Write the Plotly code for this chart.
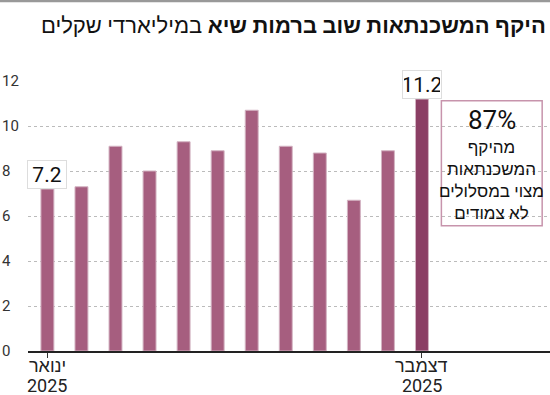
import plotly.graph_objects as go

months = ["ינואר", "פברואר", "מרץ", "אפריל", "מאי", "יוני",
          "יולי", "אוגוסט", "ספטמבר", "אוקטובר", "נובמבר", "דצמבר"]
values = [7.2, 7.3, 9.1, 8.0, 9.3, 8.9, 10.7, 9.1, 8.8, 6.7, 8.9, 11.2]
year = "2025"
y_ticks = [0, 2, 4, 6, 8, 10, 12]
title_bold = "היקף המשכנתאות שוב ברמות שיא"
title_regular = "במיליארדי שקלים"
note_big = "87%"
note_lines = ["מהיקף", "המשכנתאות", "מצוי במסלולים", "לא צמודים"]

FONT = "Liberation Sans Narrow, Roboto, Liberation Sans, Arial, sans-serif"
BAR = "#A65E7F"
BAR_LAST = "#8B3F64"

x_idx = list(range(len(months)))
colors = [BAR] * (len(values) - 1) + [BAR_LAST]

fig = go.Figure()
fig.add_trace(go.Bar(
    x=x_idx, y=values, width=0.38,
    marker=dict(color=colors, line=dict(color="#D3B3C2", width=1)),
    hoverinfo="skip",
))

fig.update_layout(
    width=550, height=395,
    margin=dict(l=28, r=0, t=81, b=44, pad=0),
    paper_bgcolor="white", plot_bgcolor="white",
    showlegend=False,
    font=dict(family=FONT, color="#222"),
    xaxis=dict(
        range=[-0.57, 14.76], showgrid=False, zeroline=False,
        showline=True, linecolor="#222", linewidth=1.5,
        tickmode="array", tickvals=[0, len(months) - 1], ticktext=["", ""],
        ticks="outside", ticklen=5, tickcolor="#333", tickwidth=1,
        fixedrange=True,
    ),
    yaxis=dict(
        range=[0, 12], showgrid=True, gridcolor="#BBBBBB", griddash="dot",
        gridwidth=1, zeroline=False, showline=False,
        tickmode="array", tickvals=y_ticks, showticklabels=False,
        fixedrange=True,
    ),
)

ann = []
# y tick labels, left aligned
for t in y_ticks:
    ann.append(dict(xref="paper", yref="y", x=-0.054, y=t, xanchor="left",
                    yanchor="middle", text=str(t), showarrow=False,
                    font=dict(size=15, color="#333", family=FONT)))

# x labels
for i in [0, len(months) - 1]:
    ann.append(dict(xref="x", yref="paper", x=i, y=-0.052, xanchor="center",
                    yanchor="middle", text=months[i], showarrow=False,
                    font=dict(size=18, color="#222", family=FONT)))
    ann.append(dict(xref="x", yref="paper", x=i, y=-0.126, xanchor="center",
                    yanchor="middle", text=year, showarrow=False,
                    font=dict(size=18, color="#222", family=FONT)))

# value boxes
for i in [0, len(values) - 1]:
    ann.append(dict(xref="x", yref="y", x=i, y=values[i], xanchor="center",
                    yanchor="bottom", text=f"{values[i]:.1f}", showarrow=False,
                    bgcolor="white", bordercolor="#DDDDDD", borderwidth=1,
                    borderpad=1, width=36, height=25,
                    font=dict(size=21, color="#111", family=FONT)))

# title
ann.append(dict(xref="paper", yref="paper", x=1, xshift=-2, y=1.205,
                xanchor="right", yanchor="middle", showarrow=False,
                text=f"<b>{title_bold}</b> {title_regular}",
                font=dict(size=22, color="#111", family=FONT)))

# note box text
ann.append(dict(xref="x", yref="y", x=13.05, y=10.27, xanchor="center",
                yanchor="middle", text=note_big, showarrow=False,
                font=dict(size=26, color="#111", family=FONT)))
ann.append(dict(xref="x", yref="y", x=13.05, y=7.62, xanchor="center",
                yanchor="middle", text="<br>".join(note_lines), showarrow=False,
                font=dict(size=17, color="#111", family=FONT)))

fig.update_layout(annotations=ann)

shapes = [
    dict(type="rect", xref="x", yref="y", x0=11.57, x1=14.53, y0=5.57, y1=11.12,
         line=dict(color="#C794AC", width=1.5), fillcolor="rgba(0,0,0,0)", layer="above"),
    dict(type="line", xref="paper", yref="paper", x0=-0.06, x1=1.0,
         y0=1.296, y1=1.296, line=dict(color="#999999", width=2.5)),
]
fig.update_layout(shapes=shapes)

fig.write_html("out.html", config={"displayModeBar": False},
               post_script="document.body.style.margin='0';document.body.style.padding='0';")
